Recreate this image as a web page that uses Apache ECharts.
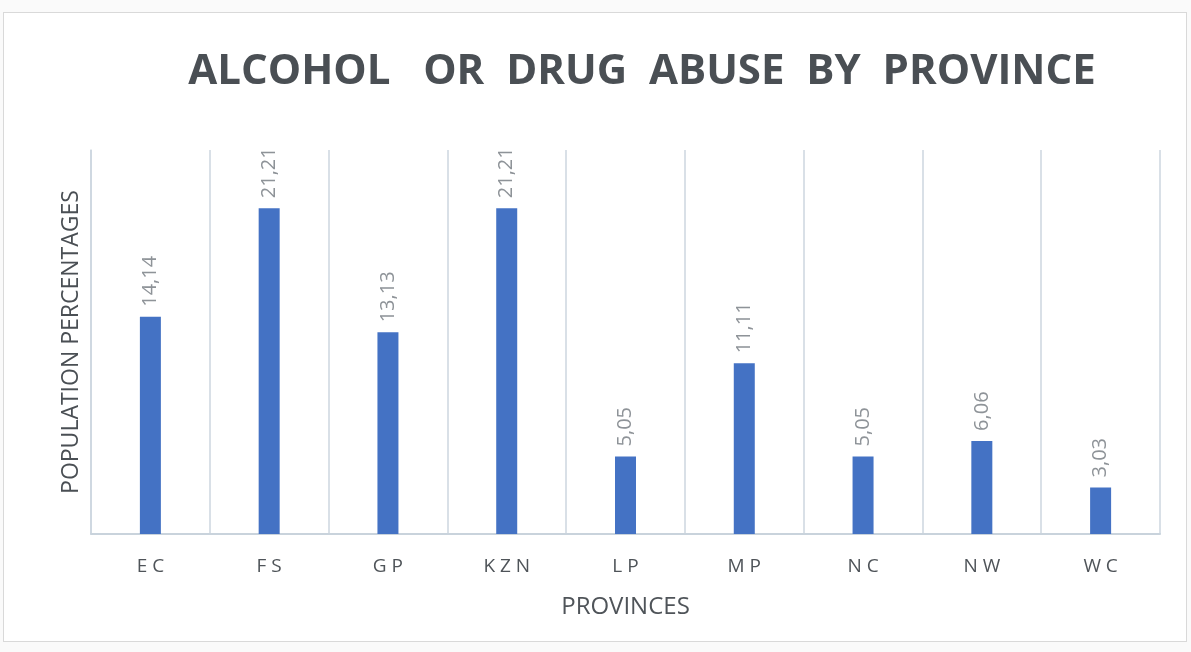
<!DOCTYPE html>
<html>
<head>
<meta charset="utf-8">
<script src="https://cdn.jsdelivr.net/npm/echarts@6/dist/echarts.min.js"></script>
<style>
  html, body { margin: 0; padding: 0; background: #fafafa; }
  #frame { position: absolute; left: 3px; top: 12px; width: 1182px; height: 628px; border: 1px solid #d9d9d9; background: #fff; }
  #abuseChart { position: absolute; left: -4px; top: -13px; width: 1191px; height: 652px; }
</style>
</head>
<body>
<div id="frame"><div id="abuseChart"></div></div>
<script>
// provinces and percentages
var provinces = ['EC', 'FS', 'GP', 'KZN', 'LP', 'MP', 'NC', 'NW', 'WC'];
var percentages = [14.14, 21.21, 13.13, 21.21, 5.05, 11.11, 5.05, 6.06, 3.03];
var yMax = 25;

var myChart = echarts.init(document.getElementById('abuseChart'));
var option = {
	animation: false,
	title: {
		// wide word gaps as in the original
		text: 'ALCOHOL   OR  DRUG  ABUSE  BY  PROVINCE',
		left: 637,
		textAlign: 'center',
		top: 46,
		textStyle: {
			fontFamily: 'Open Sans',
			fontWeight: 'bold',
			fontSize: 42,
			color: '#4a4f54'
		}
	},
	grid: {
		left: 91,
		right: 31,
		top: 150,
		bottom: 118
	},
	xAxis: {
		type: 'category',
		data: provinces,
		name: 'PROVINCES',
		nameLocation: 'middle',
		nameGap: 61,
		nameTextStyle: { fontFamily: 'Open Sans', fontSize: 24, color: '#4f5459' },
		axisLine: { lineStyle: { color: '#c9d3dc', width: 2 } },
		axisTick: { show: false },
		axisLabel: {
			margin: 23,
			fontFamily: 'Open Sans',
			fontSize: 19,
			color: '#4f5459',
			formatter: function(v) {
				return v.split('').join(' ');
			}
		},
		splitLine: { show: true, lineStyle: { color: '#ccd6df', width: 1.5 } }
	},
	yAxis: {
		type: 'value',
		min: 0,
		max: yMax,
		name: 'POPULATION PERCENTAGES',
		nameLocation: 'middle',
		nameGap: 8,
		nameTextStyle: { fontFamily: 'Open Sans', fontSize: 23, color: '#4a4f54' },
		axisLine: { show: true, lineStyle: { color: '#ccd6df', width: 1.5 } },
		axisTick: { show: false },
		axisLabel: { show: false },
		splitLine: { show: false }
	},
	series: [{
		type: 'bar',
		data: percentages,
		barWidth: 21,
		itemStyle: { color: '#4472c4' },
		label: {
			show: true,
			position: 'top',
			rotate: 90,
			align: 'left',
			verticalAlign: 'middle',
			distance: 10,
			fontFamily: 'Open Sans',
			fontSize: 20,
			color: '#8e9398',
			formatter: function(p) {
				return p.value.toFixed(2).replace('.', ',');
			}
		}
	}]
};
myChart.setOption(option);
</script>
</body>
</html>
